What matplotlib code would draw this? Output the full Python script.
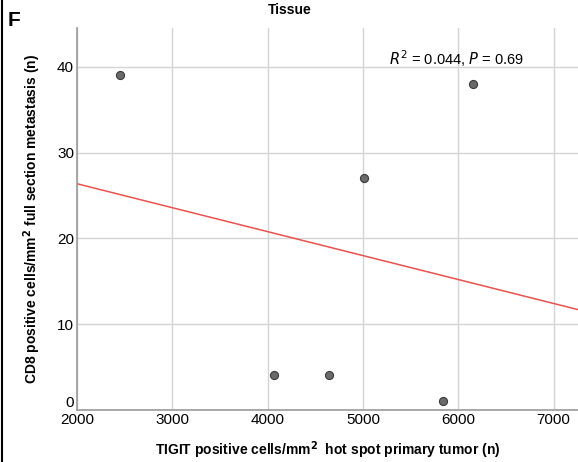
import numpy as np
import matplotlib
matplotlib.use("Agg")
import matplotlib.pyplot as plt

plt.rcParams['font.family'] = ['Liberation Sans', 'DejaVu Sans']

# TIGIT hot spot density vs CD8 density in metastasis
tigit = [2450, 4070, 4650, 5010, 5840, 6160]
cd8 = [39, 4, 4, 27, 1, 38]
xticks = [2000, 3000, 4000, 5000, 6000, 7000]
yticks = [0, 10, 20, 30, 40]

x = np.array(tigit, dtype=float)
y = np.array(cd8, dtype=float)
slope, intercept = np.polyfit(x, y, 1)

fig = plt.figure(figsize=(5.78, 4.62), dpi=100)
ax = fig.add_axes([0.133, 0.113, 0.867, 0.826])

ax.set_xlim(2000, 7257)
ax.set_ylim(0, 44.5)
ax.set_xticks(xticks)
ax.set_yticks(yticks)
ax.grid(True, color='#d4d4d4', linewidth=1)
ax.set_axisbelow(True)
for side in ['top', 'right']:
    ax.spines[side].set_visible(False)
for side in ['left', 'bottom']:
    ax.spines[side].set_color('#9a9a9a')
    ax.spines[side].set_linewidth(1.2)
ax.tick_params(length=0, labelsize=11, pad=2)
# the zero label sits a little higher so it clears the first x label
ax.get_yticklabels()[0].set_va('bottom')

xs = np.array(ax.get_xlim())
ax.plot(xs, intercept + slope * xs, color='#e8524f', linewidth=1.1, zorder=2)
ax.scatter(x, y, s=34, color='#6a6a6a', edgecolors='#3c3c3c', linewidths=0.8, zorder=3)

ax.text(5270, 40.2, r'$R^2$ = 0.044, $P$ = 0.69', fontsize=10.5)

ax.set_xlabel(r'TIGIT positive cells/mm$^\mathbf{2}$  hot spot primary tumor (n)',
              fontsize=10, fontweight='bold', labelpad=9)
ax.set_ylabel(r'CD8 positive cells/mm$^\mathbf{2}$ full section metastasis (n)',
              fontsize=10, fontweight='bold', labelpad=10)

fig.text(0.502, 0.978, 'Tissue', ha='center', va='center', fontsize=10, fontweight='bold')
fig.text(0.014, 0.955, 'F', ha='left', va='center', fontsize=15, fontweight='bold')
fig.add_artist(plt.Line2D([0.004, 0.004], [0, 1], color='black', linewidth=1.5,
                          transform=fig.transFigure))

fig.savefig('out.png', dpi=100)
